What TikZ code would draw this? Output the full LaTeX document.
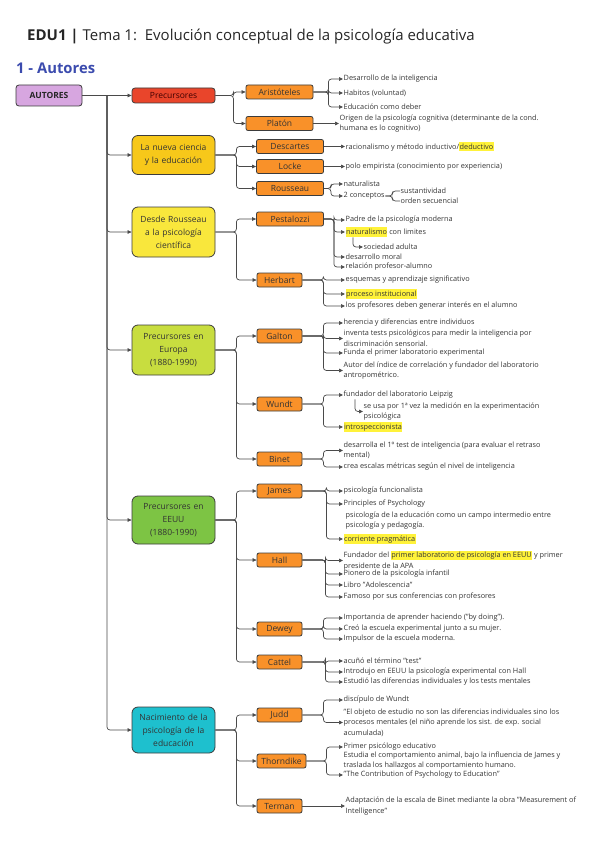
\documentclass[tikz,border=0pt]{standalone}
\usepackage{fontspec}
\setmainfont{Open Sans}
\usetikzlibrary{arrows.meta, positioning}

\definecolor{lila}{HTML}{D7A6E0}
\definecolor{rojo}{HTML}{E9452B}
\definecolor{amarillo1}{HTML}{F7C81A}
\definecolor{amarillo2}{HTML}{F9E73C}
\definecolor{lima}{HTML}{C8DD3F}
\definecolor{verde}{HTML}{7DC444}
\definecolor{cian}{HTML}{1EC0CE}
\definecolor{naranja}{HTML}{F99129}
\definecolor{marcador}{HTML}{FFF23A}
\definecolor{borde}{HTML}{3C3C3C}
\definecolor{linea}{HTML}{4A4A4A}
\definecolor{azul}{HTML}{3B4BAE}

\newcommand{\marca}[1]{{\setlength{\fboxsep}{0.4pt}\colorbox{marcador}{\vphantom{Áy}#1}}}

\begin{document}
\begin{tikzpicture}[x=1pt, y=-1pt,
  root/.style={rectangle, draw=borde, fill=lila, rounded corners=3pt, line width=0.8pt, minimum width=66pt, minimum height=21pt, font=\fontsize{8.5}{10}\selectfont\bfseries, text=black!85},
  cat/.style={rectangle, draw=borde, fill=#1, rounded corners=6pt, line width=0.8pt, minimum width=83pt, text width=79pt, align=center, inner sep=1pt, font=\fontsize{8.5}{13}\selectfont, text=black!80},
  pers/.style={rectangle, draw=borde, fill=naranja, rounded corners=2pt, line width=0.8pt, minimum height=14pt, inner sep=1pt, font=\fontsize{8.5}{10}\selectfont, text=black!80},
  hoja/.style={anchor=west, inner sep=0.5pt, align=left, font=\fontsize{7.3}{10.5}\selectfont, text=black!80},
  arr/.style={-{Triangle[length=4pt, width=3.6pt]}, line width=0.7pt, draw=linea, rounded corners=3pt},
  ln/.style={line width=0.7pt, draw=linea, rounded corners=3pt}
]
  \useasboundingbox (0,0) rectangle (599,848);

  % titulos
  \node[anchor=west, inner sep=0pt, font=\fontsize{15}{18}\selectfont, text=black!85] (titulo) at (27,37) {\textbf{EDU1 |} Tema 1:\ \ Evolución conceptual de la psicología educativa};
  \node[anchor=west, inner sep=0pt, font=\fontsize{14.8}{18}\selectfont\bfseries, text=azul] (seccion) at (16,68) {1 - Autores};

  % nivel 0 y 1
  \node[root] (autores) at (49,95.5) {AUTORES};
  \node[cat=rojo, minimum height=15pt, rounded corners=3pt, text=black!75!red] (prec) at (173.5,95.5) {Precursores};
  \node[cat=amarillo1, minimum height=39pt] (nueva) at (173.5,155) {La nueva ciencia\\y la educación};
  \node[cat=amarillo2, minimum height=50pt] (desde) at (173.5,232) {Desde Rousseau\\a la psicología\\científica};
  \node[cat=lima, minimum height=50pt] (europa) at (173.5,350) {Precursores en\\Europa\\(1880-1990)};
  \node[cat=verde, minimum height=48pt] (eeuu) at (173.5,520) {Precursores en\\EEUU\\(1880-1990)};
  \node[cat=cian, minimum height=46pt] (nac) at (173.5,730) {Nacimiento de la\\psicología de la\\educación};

  \coordinate (spine) at (107,95.5);
  \draw[ln] (autores.east) -- (spine);
  \draw[arr] (spine) -- (prec.west);
  \draw[arr] (spine) |- (nueva.west);
  \draw[arr] (spine) |- (desde.west);
  \draw[arr] (spine) |- (europa.west);
  \draw[arr] (spine) |- (eeuu.west);
  \draw[arr] (spine) |- (nac.west);

  % nivel 2: autores
  \node[pers, minimum width=67pt] (aris) at (279.5,92) {Aristóteles};
  \node[pers, minimum width=67pt] (plat) at (279.5,123.5) {Platón};
  \node[pers, minimum width=67pt] (desc) at (290,146.5) {Descartes};
  \node[pers, minimum width=67pt] (locke) at (290,166.5) {Locke};
  \node[pers, minimum width=67pt] (rous) at (290,188.5) {Rousseau};
  \node[pers, minimum width=67pt] (pest) at (290,219) {Pestalozzi};
  \node[pers, minimum width=45pt] (herb) at (279.5,280) {Herbart};
  \node[pers, minimum width=45pt] (galt) at (279.5,336) {Galton};
  \node[pers, minimum width=45pt] (wund) at (279.5,404) {Wundt};
  \node[pers, minimum width=45pt] (bine) at (279.5,459) {Binet};
  \node[pers, minimum width=45pt] (jame) at (279.5,491) {James};
  \node[pers, minimum width=45pt] (hall) at (279.5,560) {Hall};
  \node[pers, minimum width=45pt] (dewe) at (279.5,629) {Dewey};
  \node[pers, minimum width=45pt] (catt) at (279.5,662) {Cattel};
  \node[pers, minimum width=45pt] (judd) at (279.5,715) {Judd};
  \node[pers, minimum width=49pt] (thor) at (281.5,761) {Thorndike};
  \node[pers, minimum width=45pt] (term) at (279.5,806) {Terman};

  \draw[arr] (prec.east) -- ++(18,0) |- (aris.west);
  \draw[arr] (prec.east) -- ++(18,0) |- (plat.west);
  \draw[arr] (nueva.east) -- ++(21,0) |- (desc.west);
  \draw[arr] (nueva.east) -- ++(21,0) |- (locke.west);
  \draw[arr] (nueva.east) -- ++(21,0) |- (rous.west);
  \draw[arr] (desde.east) -- ++(21,0) |- (pest.west);
  \draw[arr] (desde.east) -- ++(21,0) |- (herb.west);
  \draw[arr] (europa.east) -- ++(21,0) |- (galt.west);
  \draw[arr] (europa.east) -- ++(21,0) |- (wund.west);
  \draw[arr] (europa.east) -- ++(21,0) |- (bine.west);
  \draw[arr] (eeuu.east) -- ++(21,0) |- (jame.west);
  \draw[arr] (eeuu.east) -- ++(21,0) |- (hall.west);
  \draw[arr] (eeuu.east) -- ++(21,0) |- (dewe.west);
  \draw[arr] (eeuu.east) -- ++(21,0) |- (catt.west);
  \draw[arr] (nac.east) -- ++(21,0) |- (judd.west);
  \draw[arr] (nac.east) -- ++(21,0) |- (thor.west);
  \draw[arr] (nac.east) -- ++(21,0) |- (term.west);

  % nivel 3: ideas
  \node[hoja] (a1) at (343,79) {Desarrollo de la inteligencia};
  \node[hoja] (a2) at (343,93) {Habitos (voluntad)};
  \node[hoja] (a3) at (343,107) {Educación como deber};
  \draw[arr] (aris.east) -- ++(15,0) |- (a1.west);
  \draw[arr] (aris.east) -- ++(15,0) |- (a2.west);
  \draw[arr] (aris.east) -- ++(15,0) |- (a3.west);

  \node[hoja] (pl1) at (339,123.5) {Origen de la psicología cognitiva (determinante de la cond.\\humana es lo cognitivo)};
  \draw[arr] (plat.east) -- (pl1.west);

  \node[hoja] (d1) at (345,146.5) {racionalismo y método inductivo/\marca{deductivo}};
  \draw[arr] (desc.east) -- (d1.west);
  \node[hoja] (l1) at (345,166.5) {polo empirista (conocimiento por experiencia)};
  \draw[arr] (locke.east) -- (l1.west);

  \node[hoja] (r1) at (343,184) {naturalista};
  \node[hoja] (r2) at (343,196) {2 conceptos};
  \node[hoja] (r3) at (400,191) {sustantividad};
  \node[hoja] (r4) at (400,201) {orden secuencial};
  \draw[arr] (rous.east) -- ++(7,0) |- (r1.west);
  \draw[arr] (rous.east) -- ++(7,0) |- (r2.west);
  \draw[ln] (r2.east) -- ++(7,0) |- (r3.west);
  \draw[ln] (r2.east) -- ++(7,0) |- (r4.west);

  \node[hoja] (p1) at (345,220) {Padre de la psicología moderna};
  \node[hoja] (p2) at (345,232) {\marca{naturalismo} con limites};
  \node[hoja] (p3) at (363,247) {sociedad adulta};
  \node[hoja] (p4) at (345,257) {desarrollo moral};
  \node[hoja] (p5) at (345,267) {relación profesor-alumno};
  \draw[arr] (pest.east) -- ++(10,0) |- (p1.west);
  \draw[arr] (pest.east) -- ++(10,0) |- (p2.west);
  \draw[arr] ([xshift=8pt]p2.south west) |- (p3.west);
  \draw[arr] (pest.east) -- ++(10,0) |- (p4.west);
  \draw[arr] (pest.east) -- ++(10,0) |- (p5.west);

  \node[hoja] (h1) at (345,280) {esquemas y aprendizaje significativo};
  \node[hoja] (h2) at (345,294) {\marca{proceso institucional}};
  \node[hoja] (h3) at (345,306) {los profesores deben generar interés en el alumno};
  \draw[arr] (herb.east) -- ++(21,0) |- (h1.west);
  \draw[arr] (herb.east) -- ++(21,0) |- (h2.west);
  \draw[arr] (herb.east) -- ++(21,0) |- (h3.west);

  \node[hoja] (g1) at (343,323) {herencia y diferencias entre individuos};
  \node[hoja] (g2) at (343,338.5) {inventa tests psicológicos para medir la inteligencia por\\discriminación sensorial.};
  \node[hoja] (g3) at (343,353) {Funda el primer laboratorio experimental};
  \node[hoja] (g4) at (343,370.5) {Autor del índice de correlación y fundador del laboratorio\\antropométrico.};
  \draw[arr] (galt.east) -- ++(21,0) |- (g1.west);
  \draw[arr] (galt.east) -- ++(21,0) |- (g2.west);
  \draw[arr] (galt.east) -- ++(21,0) |- (g3.west);
  \draw[arr] (galt.east) -- ++(21,0) |- (g4.west);

  \node[hoja] (w1) at (343,395) {fundador del laboratorio Leipzig};
  \node[hoja] (w2) at (363,411.5) {se usa por 1ª vez la medición en la experimentación\\psicológica};
  \node[hoja] (w3) at (343,427) {\marca{introspeccionista}};
  \draw[arr] (wund.east) -- ++(21,0) |- (w1.west);
  \draw[arr] ([xshift=12pt]w1.south west) |- (w2.west);
  \draw[arr] (wund.east) -- ++(21,0) |- (w3.west);

  \node[hoja] (b1) at (343,450.5) {desarrolla el 1º test de inteligencia (para evaluar el retraso\\mental)};
  \node[hoja] (b2) at (343,467) {crea escalas métricas según el nivel de inteligencia};
  \draw[arr] (bine.east) -- ++(21,0) |- (b1.west);
  \draw[arr] (bine.east) -- ++(21,0) |- (b2.west);

  \node[hoja] (j1) at (343,491) {psicología funcionalista};
  \node[hoja] (j2) at (343,504) {Principles of Psychology};
  \node[hoja] (j3) at (345,520.5) {psicología de la educación como un campo intermedio entre\\psicología y pedagogía.};
  \node[hoja] (j4) at (343,539) {\marca{corriente pragmática}};
  \draw[arr] (jame.east) -- ++(24,0) |- (j1.west);
  \draw[arr] (jame.east) -- ++(24,0) |- (j2.west);
  \draw[arr] (jame.east) -- ++(24,0) |- (j4.west);

  \node[hoja] (ha1) at (343,560.5) {Fundador del \marca{primer laboratorio de psicología en EEUU} y primer\\presidente de la APA};
  \node[hoja] (ha2) at (343,574) {Pionero de la psicología infantil};
  \node[hoja] (ha3) at (343,585) {Libro "Adolescencia"};
  \node[hoja] (ha4) at (343,597) {Famoso por sus conferencias con profesores};
  \draw[arr] (hall.east) -- ++(23,0) |- (ha1.west);
  \draw[arr] (hall.east) -- ++(23,0) |- (ha2.west);
  \draw[arr] (hall.east) -- ++(23,0) |- (ha3.west);
  \draw[arr] (hall.east) -- ++(23,0) |- (ha4.west);

  \node[hoja] (de1) at (343,618) {Importancia de aprender haciendo ("by doing").};
  \node[hoja] (de2) at (343,629) {Creó la escuela experimental junto a su mujer.};
  \node[hoja] (de3) at (343,639) {Impulsor de la escuela moderna.};
  \draw[arr] (dewe.east) -- ++(21,0) |- (de1.west);
  \draw[arr] (dewe.east) -- ++(21,0) |- (de2.west);
  \draw[arr] (dewe.east) -- ++(21,0) |- (de3.west);

  \node[hoja] (c1) at (343,661) {acuñó el término "test"};
  \node[hoja] (c2) at (343,672) {Introdujo en EEUU la psicología experimental con Hall};
  \node[hoja] (c3) at (343,682) {Estudió las diferencias individuales y los tests mentales};
  \draw[arr] (catt.east) -- ++(23,0) |- (c1.west);
  \draw[arr] (catt.east) -- ++(23,0) |- (c2.west);
  \draw[arr] (catt.east) -- ++(23,0) |- (c3.west);

  \node[hoja] (ju1) at (343,700) {discípulo de Wundt};
  \node[hoja] (ju2) at (343,722.5) {"El objeto de estudio no son las diferencias individuales sino los\\procesos mentales (el niño aprende los sist. de exp. social\\acumulada)};
  \draw[arr] (judd.east) -- ++(21,0) |- (ju1.west);
  \draw[arr] (judd.east) -- ++(21,0) |- (ju2.west);

  \node[hoja] (t1) at (343,747) {Primer psicólogo educativo};
  \node[hoja] (t2) at (343,760.5) {Estudia el comportamiento animal, bajo la influencia de James y\\traslada los hallazgos al comportamiento humano.};
  \node[hoja] (t3) at (343,775) {"The Contribution of Psychology to Education"};
  \draw[arr] (thor.east) -- ++(20,0) |- (t1.west);
  \draw[arr] (thor.east) -- ++(20,0) |- (t3.west);

  \node[hoja] (te1) at (345,806) {Adaptación de la escala de Binet mediante la obra "Measurement of\\Intelligence"};
  \draw[arr] (term.east) -- (te1.west);
\end{tikzpicture}
\end{document}
